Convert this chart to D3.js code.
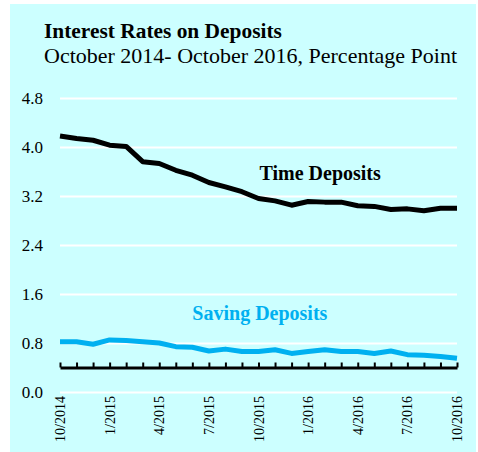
<!DOCTYPE html>
<html>
<head>
<meta charset="utf-8">
<script src="https://cdn.jsdelivr.net/npm/d3@7"></script>
<style>
  body { margin: 0; background: #fff; }
  text { font-family: "Liberation Serif", "Times New Roman", serif; }
</style>
</head>
<body>
<div id="chart"></div>
<script>
const WIDTH = 478
const HEIGHT = 452

// monthly, October 2014 .. October 2016
const months = ['10/2014', '11/2014', '12/2014', '1/2015', '2/2015', '3/2015', '4/2015', '5/2015', '6/2015',
    '7/2015', '8/2015', '9/2015', '10/2015', '11/2015', '12/2015', '1/2016', '2/2016', '3/2016',
    '4/2016', '5/2016', '6/2016', '7/2016', '8/2016', '9/2016', '10/2016'];
const timeDeposits = [4.18, 4.14, 4.11, 4.03, 4.01, 3.76, 3.73, 3.62, 3.54, 3.42, 3.35, 3.27, 3.16,
    3.12, 3.05, 3.11, 3.10, 3.10, 3.04, 3.03, 2.98, 2.99, 2.96, 3.00, 3.00];
const savingDeposits = [0.82, 0.82, 0.78, 0.85, 0.84, 0.82, 0.80, 0.74, 0.73, 0.67, 0.70, 0.66, 0.66,
    0.69, 0.63, 0.66, 0.69, 0.66, 0.66, 0.63, 0.67, 0.61, 0.60, 0.58, 0.55];
const yTicks = [0, 0.8, 1.6, 2.4, 3.2, 4.0, 4.8];
const xLabelEvery = 3;
const axisCross = 0.4;

var svg = d3.select("#chart").append("svg")
    .attr("width", WIDTH)
    .attr("height", HEIGHT);

// panel background
svg.append("rect")
    .attr("x", 10)
    .attr("y", 4)
    .attr("width", 466)
    .attr("height", 448)
    .attr("fill", "#ccffff");

svg.append("text")
    .attr("x", 44)
    .attr("y", 38)
    .attr("font-size", "21.4px")
    .attr("font-weight", "bold")
    .text("Interest Rates on Deposits");

svg.append("text")
    .attr("x", 44)
    .attr("y", 63)
    .attr("font-size", "22px")
    .text("October 2014- October 2016, Percentage Point");

var xScale = d3.scaleLinear()
    .domain([0, months.length - 1])
    .range([60, 457]);

var yScale = d3.scaleLinear()
    .domain([0, 4.8])
    .range([392, 98]);

// gridlines + y labels
var yAxis = svg.append("g")
    .attr("transform", "translate(60,0)")
    .call(d3.axisLeft(yScale)
        .tickValues(yTicks)
        .tickFormat(d3.format(".1f"))
        .tickSize(-(xScale.range()[1] - xScale.range()[0]))
        .tickPadding(17));
yAxis.select(".domain").remove();
yAxis.selectAll("line")
    .attr("stroke", "#fff")
    .attr("stroke-width", 2);
yAxis.selectAll("text")
    .attr("font-size", "17px")
    .attr("fill", "#000")
    .attr("font-family", "'Liberation Serif', 'Times New Roman', serif");

// x axis sits at 0.4, ticks pointing up
var xAxis = svg.append("g")
    .attr("transform", `translate(0,${yScale(axisCross)})`)
    .call(d3.axisTop(xScale)
        .tickValues(d3.range(months.length))
        .tickFormat("")
        .tickSize(5)
        .tickSizeOuter(0));
xAxis.select(".domain")
    .attr("stroke", "#000")
    .attr("stroke-width", 3);
xAxis.selectAll(".tick line")
    .attr("stroke", "#000")
    .attr("stroke-width", 2);

// rotated month labels under the plot
svg.append("g").selectAll("text")
    .data(months.map((m, i) => ({ m, i })).filter(d => d.i % xLabelEvery === 0))
    .enter()
    .append("text")
    .attr("transform", d => `translate(${xScale(d.i) + 5},396) rotate(-90)`)
    .attr("text-anchor", "end")
    .attr("font-size", "14px")
    .text(d => d.m);

var line = d3.line()
    .x((d, i) => xScale(i))
    .y(d => yScale(d));

svg.append("path")
    .datum(timeDeposits)
    .attr("fill", "none")
    .attr("stroke", "#000")
    .attr("stroke-width", 5)
    .attr("stroke-linejoin", "round")
    .attr("d", line);

svg.append("path")
    .datum(savingDeposits)
    .attr("fill", "none")
    .attr("stroke", "#00b0f0")
    .attr("stroke-width", 5)
    .attr("stroke-linejoin", "round")
    .attr("d", line);

svg.append("text")
    .attr("x", xScale(12.06))
    .attr("y", yScale(3.46))
    .attr("font-size", "20px")
    .attr("font-weight", "bold")
    .text("Time Deposits");

svg.append("text")
    .attr("x", xScale(8.0))
    .attr("y", yScale(1.18))
    .attr("font-size", "20px")
    .attr("font-weight", "bold")
    .attr("fill", "#00b0f0")
    .text("Saving Deposits");
</script>
</body>
</html>
